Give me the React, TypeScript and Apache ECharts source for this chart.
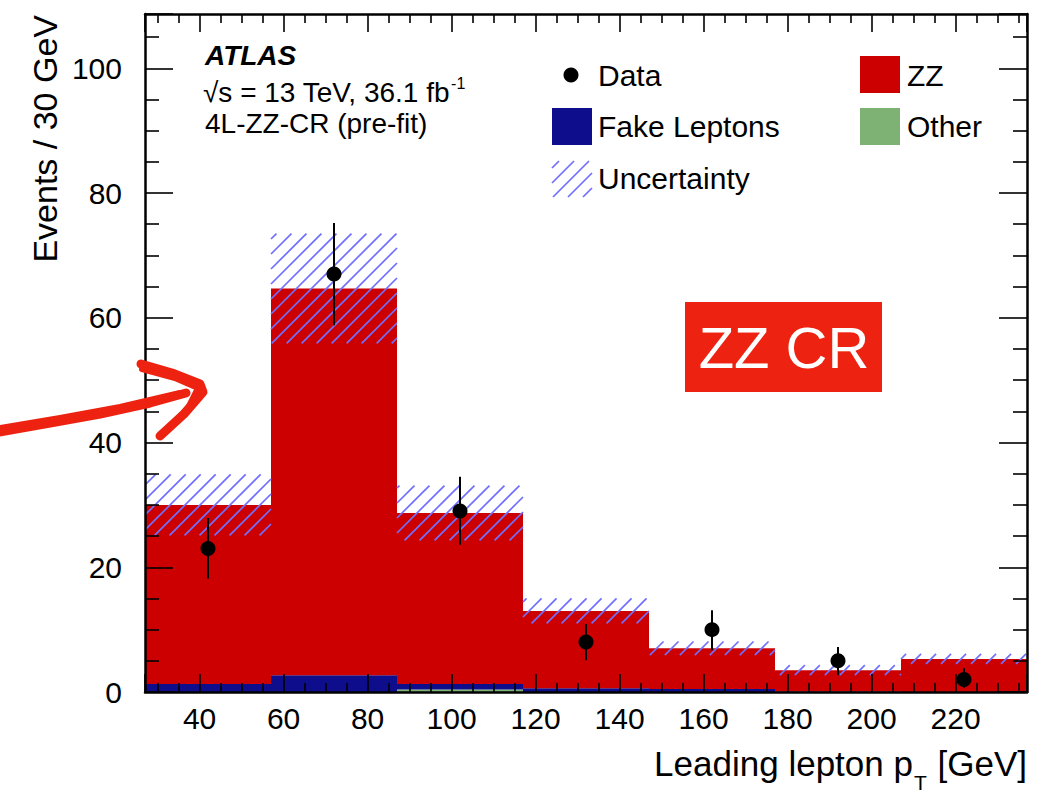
import React, { useEffect, useRef } from 'react';
import * as echarts from 'echarts';

// Histogram binning (GeV) and per-bin yields
const binEdges = [27, 57, 87, 117, 147, 177, 207, 237];
const zzEvents = [28.7, 62.0, 27.4, 12.4, 6.5, 3.4, 5.3];
const fakeEvents = [1.3, 2.7, 0.9, 0.6, 0.5, 0.1, 0.0];
const otherEvents = [0, 0, 0.4, 0, 0, 0, 0];
const bkgUncertainty = [4.9, 8.8, 4.4, 2.0, 1.1, 0.8, 0.8];
const dataEvents = [23, 67, 29, 8, 10, 5, 2];
const dataErrUp = [4.9, 8.2, 5.5, 2.9, 3.1, 2.2, 1.8];
const dataErrDown = [4.8, 8.2, 5.4, 2.9, 3.3, 2.3, 1.3];

const X_MIN = 27;
const X_MAX = 237;
const Y_MAX = 108.7;

const FONT = '"Liberation Sans", Arial, Helvetica, sans-serif';
const HATCH = '#7070ff';
const RED = '#cc0000';
const BLUE = '#0e0e8c';
const GREEN = '#7db274';
const MARK_RED = '#ee2211';

const stackDefs = [
  { name: 'Other', values: otherEvents, color: GREEN },
  { name: 'Fake Leptons', values: fakeEvents, color: BLUE },
  { name: 'ZZ', values: zzEvents, color: RED },
];

function textWidth(text: string, size: number, weight = 'normal', style = 'normal') {
  const ctx = document.createElement('canvas').getContext('2d');
  if (!ctx) return text.length * size * 0.55;
  ctx.font = `${style} ${weight} ${size}px ${FONT}`;
  return ctx.measureText(text).width;
}

// y for a 'middle'-aligned text whose alphabetic baseline should sit at `baseline`
const mid = (baseline: number, size: number) => baseline - 0.3465 * size;

// 45-degree hatch lines clipped to a screen rectangle
function hatchLines(x0: number, y0: number, x1: number, y1: number, step = 15) {
  const out: { x1: number; y1: number; x2: number; y2: number }[] = [];
  const cStart = Math.ceil((x0 + y0) / step) * step;
  for (let c = cStart; c <= x1 + y1; c += step) {
    const xa = Math.max(x0, c - y1);
    const xb = Math.min(x1, c - y0);
    if (xb > xa) out.push({ x1: xa, y1: c - xa, x2: xb, y2: c - xb });
  }
  return out;
}

function buildOption() {
  // stacked histogram components
  const cumulative = binEdges.slice(1).map(() => 0);
  const stackSeries = stackDefs.map((def) => {
    const data = def.values.map((v, i) => {
      const base = cumulative[i];
      cumulative[i] += v;
      return [binEdges[i], binEdges[i + 1], base, base + v];
    });
    return {
      type: 'custom',
      name: def.name,
      clip: true,
      encode: { x: [0, 1], y: [2, 3] },
      data,
      renderItem: (_p: any, api: any) => {
        const a = api.coord([api.value(0), api.value(2)]);
        const b = api.coord([api.value(1), api.value(3)]);
        return {
          type: 'rect',
          shape: { x: a[0], y: b[1], width: b[0] - a[0], height: a[1] - b[1] },
          style: { fill: def.color },
        };
      },
    };
  });

  const totals = cumulative.slice();
  const bandData = totals.map((t, i) => [binEdges[i], binEdges[i + 1], t - bkgUncertainty[i], t + bkgUncertainty[i]]);
  const centers = dataEvents.map((_, i) => (binEdges[i] + binEdges[i + 1]) / 2);

  const tickStyle = { color: '#000', width: 1.6 };
  const xAxisBase = {
    type: 'value',
    min: X_MIN,
    max: X_MAX,
    splitNumber: 10,
    minInterval: 20,
    maxInterval: 20,
    z: 5,
    axisLine: { show: true, onZero: false, lineStyle: { color: '#000', width: 2.5 } },
    axisTick: { show: true, inside: true, length: 18, lineStyle: tickStyle },
    minorTick: { show: true, splitNumber: 4, length: 9, lineStyle: tickStyle },
    splitLine: { show: false },
  };
  const yAxisBase = {
    type: 'value',
    min: 0,
    max: Y_MAX,
    interval: 20,
    z: 5,
    axisLine: { show: true, onZero: false, lineStyle: { color: '#000', width: 2.5 } },
    axisTick: { show: true, inside: true, length: 28, lineStyle: tickStyle },
    minorTick: { show: true, splitNumber: 4, length: 14, lineStyle: tickStyle },
    splitLine: { show: false },
  };
  const labelFmt = (v: number) => (Math.abs(v % 20) < 1e-9 ? String(v) : '');

  // axis titles with sub/superscripts
  const xtMain = 35;
  const xtSub = 21;
  const xtRight = 1027;
  const wGeV = textWidth(' [GeV]', xtMain);
  const wT = textWidth('T', xtSub);
  const lumiText = '\u221As = 13 TeV, 36.1 fb';
  const wLumi = textWidth(lumiText, 28);

  const legendHatch = hatchLines(552, 161, 592, 197, 15);

  const textStyle = (size: number, extra: any = {}) => ({
    fontFamily: FONT,
    fontSize: size,
    fill: '#000',
    ...extra,
  });

  const arrowStyle = { stroke: MARK_RED, lineWidth: 9, lineCap: 'round', lineJoin: 'round', fill: 'none' };

  return {
    animation: false,
    backgroundColor: '#fff',
    grid: { left: 145, right: 25, top: 14, bottom: 106, containLabel: false },
    xAxis: [
      {
        ...xAxisBase,
        position: 'bottom',
        axisLabel: { show: true, formatter: labelFmt, fontFamily: FONT, fontSize: 30, color: '#000', margin: 11 },
      },
      { ...xAxisBase, position: 'top', axisLabel: { show: false } },
    ],
    yAxis: [
      {
        ...yAxisBase,
        position: 'left',
        axisLabel: { show: true, formatter: labelFmt, fontFamily: FONT, fontSize: 30, color: '#000', margin: 23 },
      },
      { ...yAxisBase, position: 'right', axisLabel: { show: false } },
    ],
    series: [
      ...stackSeries,
      {
        type: 'custom',
        name: 'Uncertainty',
        clip: true,
        encode: { x: [0, 1], y: [2, 3] },
        data: bandData,
        renderItem: (_p: any, api: any) => {
          const a = api.coord([api.value(0), api.value(2)]);
          const b = api.coord([api.value(1), api.value(3)]);
          const lines = hatchLines(a[0], b[1], b[0], a[1], 15);
          return {
            type: 'group',
            children: lines.map((l) => ({
              type: 'line',
              shape: l,
              style: { stroke: HATCH, lineWidth: 1.7 },
            })),
          };
        },
      },
      {
        type: 'custom',
        name: 'Data errors',
        encode: { x: 0, y: [1, 2, 3] },
        data: centers.map((c, i) => [c, dataEvents[i], dataEvents[i] + dataErrUp[i], dataEvents[i] - dataErrDown[i]]),
        renderItem: (_p: any, api: any) => {
          const hi = api.coord([api.value(0), api.value(2)]);
          const lo = api.coord([api.value(0), api.value(3)]);
          return {
            type: 'line',
            shape: { x1: hi[0], y1: hi[1], x2: lo[0], y2: lo[1] },
            style: { stroke: '#000', lineWidth: 2 },
          };
        },
      },
      {
        type: 'scatter',
        name: 'Data',
        symbol: 'circle',
        symbolSize: 15,
        itemStyle: { color: '#000', opacity: 1 },
        data: centers.map((c, i) => [c, dataEvents[i]]),
      },
    ],
    graphic: [
      // y-axis title
      {
        type: 'text',
        x: 45,
        y: 15,
        rotation: Math.PI / 2,
        style: textStyle(34, { text: 'Events / 30 GeV', align: 'right', verticalAlign: 'middle' }),
      },
      // x-axis title
      {
        type: 'text',
        x: xtRight,
        y: mid(776, xtMain),
        style: textStyle(xtMain, { text: ' [GeV]', align: 'right', verticalAlign: 'middle' }),
      },
      {
        type: 'text',
        x: xtRight - wGeV - wT - 1,
        y: mid(790, xtSub),
        style: textStyle(xtSub, { text: 'T', align: 'left', verticalAlign: 'middle' }),
      },
      {
        type: 'text',
        x: xtRight - wGeV - wT - 2,
        y: mid(776, xtMain),
        style: textStyle(xtMain, { text: 'Leading lepton p', align: 'right', verticalAlign: 'middle' }),
      },
      // experiment labels
      {
        type: 'text',
        x: 205,
        y: mid(65, 28),
        style: textStyle(28, { text: 'ATLAS', fontWeight: 'bold', fontStyle: 'italic', verticalAlign: 'middle' }),
      },
      {
        type: 'text',
        x: 203,
        y: mid(102, 28),
        style: textStyle(28, { text: lumiText, verticalAlign: 'middle' }),
      },
      {
        type: 'text',
        x: 203 + wLumi + 1,
        y: mid(89, 16),
        style: textStyle(16, { text: '-1', verticalAlign: 'middle' }),
      },
      {
        type: 'text',
        x: 205,
        y: mid(133, 28),
        style: textStyle(28, { text: '4L-ZZ-CR (pre-fit)', verticalAlign: 'middle' }),
      },
      // legend
      { type: 'circle', shape: { cx: 571, cy: 75, r: 7.5 }, style: { fill: '#000' } },
      { type: 'text', x: 598, y: mid(86, 30), style: textStyle(30, { text: 'Data', verticalAlign: 'middle' }) },
      { type: 'rect', shape: { x: 552, y: 108, width: 40, height: 37 }, style: { fill: BLUE } },
      { type: 'text', x: 598, y: mid(137, 30), style: textStyle(30, { text: 'Fake Leptons', verticalAlign: 'middle' }) },
      {
        type: 'group',
        children: legendHatch.map((l) => ({ type: 'line', shape: l, style: { stroke: HATCH, lineWidth: 1.7 } })),
      },
      { type: 'text', x: 598, y: mid(189, 30), style: textStyle(30, { text: 'Uncertainty', verticalAlign: 'middle' }) },
      { type: 'rect', shape: { x: 860, y: 56, width: 40, height: 37 }, style: { fill: RED } },
      { type: 'text', x: 907, y: mid(86, 30), style: textStyle(30, { text: 'ZZ', verticalAlign: 'middle' }) },
      { type: 'rect', shape: { x: 860, y: 108, width: 40, height: 37 }, style: { fill: GREEN } },
      { type: 'text', x: 907, y: mid(137, 30), style: textStyle(30, { text: 'Other', verticalAlign: 'middle' }) },
      // region tag
      { type: 'rect', shape: { x: 685, y: 302, width: 197, height: 90 }, style: { fill: MARK_RED } },
      {
        type: 'text',
        x: 784,
        y: 347,
        style: textStyle(58, { text: 'ZZ CR', fill: '#fff', align: 'center', verticalAlign: 'middle' }),
      },
      // hand-drawn arrow, overlapping strokes for a brush look
      {
        type: 'polyline',
        z: 100,
        shape: { points: [[-6, 433], [50, 423], [100, 414], [150, 403], [186, 393]] },
        style: arrowStyle,
      },
      {
        type: 'polyline',
        z: 100,
        shape: { points: [[-6, 429], [60, 418], [120, 407], [180, 393]] },
        style: { ...arrowStyle, lineWidth: 6 },
      },
      {
        type: 'polyline',
        z: 100,
        shape: { points: [[141, 364], [172, 373], [200, 384], [203, 392], [184, 414], [160, 436]] },
        style: arrowStyle,
      },
      {
        type: 'polyline',
        z: 100,
        shape: { points: [[142, 369], [175, 378], [198, 388], [188, 408], [163, 433]] },
        style: { ...arrowStyle, lineWidth: 6 },
      },
    ],
  };
}

export default function App() {
  const ref = useRef<HTMLDivElement>(null);
  useEffect(() => {
    if (!ref.current) return;
    const chart = echarts.init(ref.current, null, { renderer: 'svg' });
    chart.setOption(buildOption() as any);
    return () => chart.dispose();
  }, []);
  return (
    <div
      ref={ref}
      style={{ position: 'absolute', left: 0, top: 0, width: 1052, height: 798, background: '#fff' }}
    />
  );
}
